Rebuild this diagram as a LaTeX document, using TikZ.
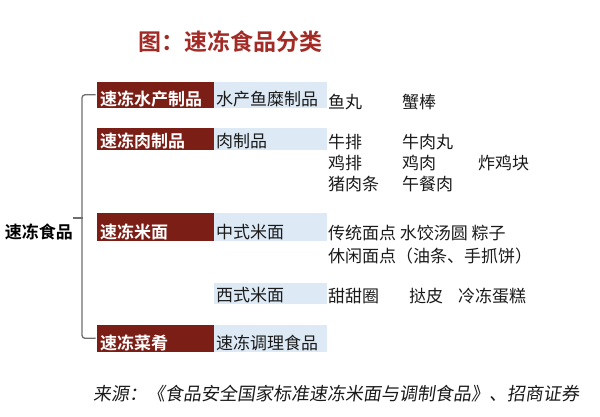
\documentclass[tikz,border=0pt]{standalone}
\usepackage{fontspec}
\newfontfamily\cjk{Noto Sans CJK SC}
\newfontfamily\cjkbold{Noto Sans CJK SC Bold}
\newfontfamily\cjkslant[FakeSlant=0.15]{Noto Sans CJK SC}
\begin{document}
\begin{tikzpicture}[x=1pt,y=-1pt,line cap=rect,
  redbox/.style={fill=custcol_7b_1e_15, text=white, font=\cjkbold\fontsize{17pt}{17pt}\selectfont,
    inner xsep=3pt, inner ysep=0pt, text width=111pt, align=left, text height=#1, text depth=2pt, anchor=south west},
  bluebox/.style={fill=custcol_dd_ea_f6, text=custcol_1a_1a_1a, font=\cjk\fontsize{17pt}{17pt}\selectfont,
    inner xsep=2pt, inner ysep=0pt, text width=109pt, align=left, text height=#1, text depth=2pt, anchor=south west},
  item/.style={inner sep=0, outer sep=0, text=custcol_1a_1a_1a, font=\cjk\fontsize{17pt}{17pt}\selectfont, anchor=west},
  bracket/.style={line width=1.3pt, custcol_6e_6e_6e, rounded corners=3pt}]
\useasboundingbox (0,0) rectangle (600,416);
\definecolor{custcol_7b_1e_15}{RGB}{123, 30, 21}
\definecolor{custcol_a3_2b_26}{RGB}{163, 43, 38}
\definecolor{custcol_dd_ea_f6}{RGB}{221, 234, 246}
\definecolor{custcol_1a_1a_1a}{RGB}{26, 26, 26}
\definecolor{custcol_6e_6e_6e}{RGB}{110, 110, 110}
% title and source
\node[inner sep=0, outer sep=0, anchor=west, custcol_a3_2b_26, font=\cjkbold\fontsize{23pt}{23pt}\selectfont] (title) at (138.0,42.0) {图：速冻食品分类};
\node[inner sep=0, outer sep=0, anchor=west, custcol_1a_1a_1a, font=\cjkslant\fontsize{18pt}{18pt}\selectfont] (source) at (93.0,394.0) {来源：《食品安全国家标准速冻米面与调制食品》、招商证券};
\node[inner sep=0, outer sep=0, anchor=west, black, font=\cjkbold\fontsize{17pt}{17pt}\selectfont] (root) at (5.0,232.0) {速冻食品};
\node[redbox=24pt] (w1) at (97.0,108.0) {速冻水产制品};
\node[bluebox=24pt] (b1) at (214.0,108.0) {水产鱼糜制品};
\node[redbox=20pt] (w2) at (97.0,150.0) {速冻肉制品};
\node[bluebox=20pt] (b2) at (214.0,150.0) {肉制品};
\node[redbox=26pt] (w3) at (97.0,241.0) {速冻米面};
\node[bluebox=26pt] (b3) at (214.0,241.0) {中式米面};
\node[bluebox=19pt] (b3w) at (214.0,304.0) {西式米面};
\node[redbox=25pt] (w4) at (97.0,352.0) {速冻菜肴};
\node[bluebox=25pt] (b4) at (214.0,352.0) {速冻调理食品};
\node[item] (fishA) at (328.0,102.0) {鱼丸};
\node[item] (fishB) at (402.0,102.0) {蟹棒};
\node[item] (meatA) at (328.0,142.0) {牛排};
\node[item] (meatB) at (402.0,142.0) {牛肉丸};
\node[item] (meatC) at (328.0,163.0) {鸡排};
\node[item] (meatD) at (402.0,163.0) {鸡肉};
\node[item] (meatE) at (478.0,163.0) {炸鸡块};
\node[item] (meatF) at (328.0,184.0) {猪肉条};
\node[item] (meatG) at (402.0,184.0) {午餐肉};
\node[item] (riceA) at (328.0,233.0) {传统面点 水饺汤圆 粽子};
\node[item] (riceB) at (328.0,256.0) {休闲面点（油条、手抓饼）};
\node[item] (westA) at (328.0,296.0) {甜甜圈};
\node[item] (westB) at (409.0,296.0) {挞皮};
\node[item] (westC) at (458.0,296.0) {冷冻蛋糕};
\coordinate (brmid) at (82.0,218.0);
\coordinate (brtick) at (74.0,218.0);
\draw[bracket] ([xshift=-2pt]w1.west) -| (brmid) |- ([xshift=-2pt]w4.west);
\draw[bracket, rounded corners=0pt] (brtick) -- (brmid);
\end{tikzpicture}
\end{document}
